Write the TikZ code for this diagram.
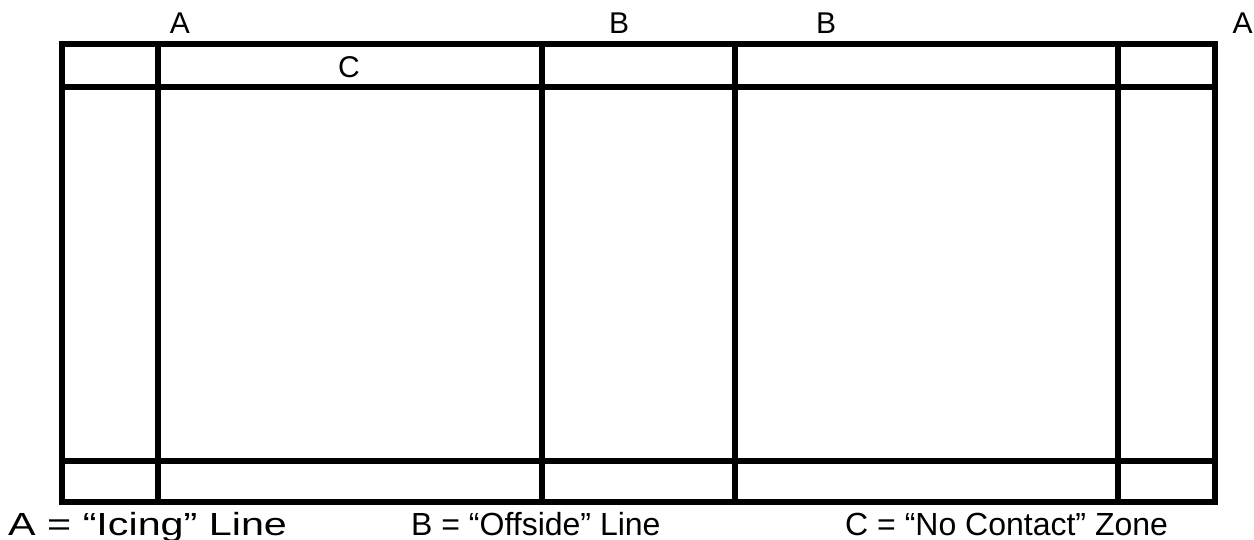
\documentclass[tikz,border=0pt]{standalone}
\usepackage{fontspec}
\setmainfont{Liberation Sans}
\begin{document}
\begin{tikzpicture}[x=1pt,y=-1pt,
  rink/.style={line width=6pt,black},
  lbl/.style={inner sep=0pt,anchor=base,font=\fontsize{30}{32}\selectfont},
  key/.style={inner sep=0pt,anchor=base west,font=\fontsize{32}{34}\selectfont}]
\useasboundingbox (0,0) rectangle (1254,539);
\fill[white] (0,0) rectangle (1254,539);
% horizontal lines
\foreach \y in {44,87,461,502}
  \draw[rink] (62,\y) -- (1214.5,\y);
% vertical lines
\foreach \x in {62,157.5,542,734.5,1118,1214.5}
  \draw[rink] (\x,41) -- (\x,505);
% labels
\node[lbl] (a1) at (180,33) {A};
\node[lbl] (b1) at (619,33) {B};
\node[lbl] (b2) at (826,33) {B};
\node[lbl] (a2) at (1242.5,33) {A};
\node[lbl] (c1) at (349,77.5) {C};
\node[key] (ka) at (8,535) {\scalebox{1.29}[1]{A = “Icing” Line}};
\node[key] (kb) at (411,535) {B = “Offside” Line};
\node[key] (kc) at (845,535) {C = “No Contact” Zone};
\end{tikzpicture}
\end{document}
